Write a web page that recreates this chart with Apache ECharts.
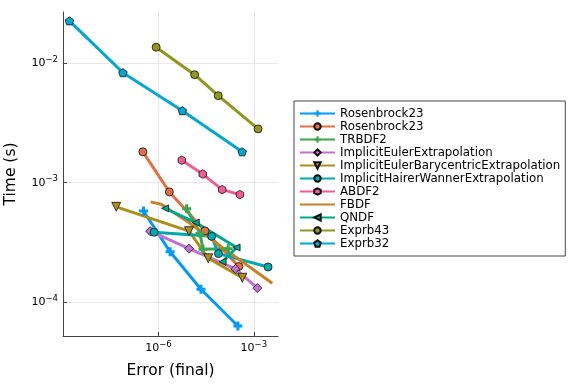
<!DOCTYPE html>
<html>
<head>
<meta charset="utf-8">
<script src="https://cdn.jsdelivr.net/npm/echarts@6/dist/echarts.min.js"></script>
<style>html,body{margin:0;padding:0;background:#fff}#c{width:576px;height:384px}</style>
</head>
<body>
<div id="c"></div>
<script>
// Series names (legend order)
const names = ["Rosenbrock23","Rosenbrock23","TRBDF2","ImplicitEulerExtrapolation","ImplicitEulerBarycentricExtrapolation","ImplicitHairerWannerExtrapolation","ABDF2","FBDF","QNDF","Exprb43","Exprb32"];
// Error (final) values, per series
const err_ros23a = [3.39e-7, 2.33e-6, 2.18e-5, 3.15e-4];
const err_ros23b = [3.24e-7, 2.21e-6, 2.91e-5, 3.39e-4];
const err_trbdf2 = [7.76e-6, 2.03e-5, 2.52e-5, 1.56e-4];
const err_iee    = [5.50e-7, 9.16e-6, 2.63e-4, 1.29e-3];
const err_iebe   = [4.72e-8, 9.16e-6, 3.69e-5, 4.35e-4];
const err_ihwe   = [7.33e-7, 4.72e-5, 7.71e-5, 2.81e-3];
const err_abdf2  = [5.42e-6, 2.47e-5, 1.01e-4, 3.64e-4];
const err_fbdf   = [5.69e-7, 1.22e-6, 9.87e-6, 9.93e-5, 3.80e-3];
const err_qndf   = [1.62e-6, 1.49e-5, 2.87e-4, 1.04e-4];
const err_exp43  = [8.47e-7, 1.38e-5, 7.60e-5, 1.36e-3];
const err_exp32  = [1.59e-9, 7.66e-8, 5.65e-6, 4.30e-4];
// Time (s) values, per series
const t_ros23a = [5.81e-4, 2.65e-4, 1.29e-4, 6.37e-5];
const t_ros23b = [1.81e-3, 8.38e-4, 3.96e-4, 2.00e-4];
const t_trbdf2 = [6.05e-4, 3.79e-4, 2.79e-4, 2.81e-4];
const t_iee    = [3.94e-4, 2.82e-4, 1.91e-4, 1.32e-4];
const t_iebe   = [6.29e-4, 3.94e-4, 2.34e-4, 1.61e-4];
const t_ihwe   = [3.86e-4, 3.57e-4, 2.56e-4, 1.98e-4];
const t_abdf2  = [1.54e-3, 1.18e-3, 8.75e-4, 7.95e-4];
const t_fbdf   = [6.92e-4, 6.60e-4, 4.58e-4, 2.90e-4, 1.45e-4];
const t_qndf   = [6.11e-4, 4.65e-4, 2.88e-4, 2.19e-4];
const t_exp43  = [1.35e-2, 7.96e-3, 5.32e-3, 2.81e-3];
const t_exp32  = [2.24e-2, 8.28e-3, 3.99e-3, 1.81e-3];
// Tick values
const xTicks = [1e-6, 1e-3];
const yTicks = [1e-4, 1e-3, 1e-2];

const errs = [err_ros23a, err_ros23b, err_trbdf2, err_iee, err_iebe, err_ihwe, err_abdf2, err_fbdf, err_qndf, err_exp43, err_exp32];
const times = [t_ros23a, t_ros23b, t_trbdf2, t_iee, t_iebe, t_ihwe, t_abdf2, t_fbdf, t_qndf, t_exp43, t_exp32];
const colors = ['#009AFA','#E36F47','#3EA44E','#C371D2','#AC8E18','#00A9AD','#ED5E93','#C68225','#00A98D','#8E971E','#00A9CD'];
const PLUS = 'path://M-1,-3H1V-1H3V1H1V3H-1V1H-3V-1H-1Z';
const HEX = 'path://M0,-1L0.866,-0.5L0.866,0.5L0,1L-0.866,0.5L-0.866,-0.5Z';
const PENT = 'path://M0,-1L0.951,-0.309L0.588,0.809L-0.588,0.809L-0.951,-0.309Z';
const symbols = [
  {s: PLUS, size: 9, rot: 0, border: 0, show: true},
  {s: 'circle', size: 8, rot: 0, border: 0.8, show: true},
  {s: PLUS, size: 9, rot: 0, border: 0, show: true},
  {s: 'diamond', size: 9, rot: 0, border: 0.8, show: true},
  {s: 'triangle', size: 9, rot: 180, border: 0.8, show: true},
  {s: 'circle', size: 8, rot: 0, border: 0.8, show: true},
  {s: HEX, size: 8.5, rot: 0, border: 0.8, show: true},
  {s: 'circle', size: 0, rot: 0, border: 0, show: false},
  {s: 'triangle', size: 7, rot: 90, border: 0.8, show: true},
  {s: 'circle', size: 8, rot: 0, border: 0.8, show: true},
  {s: PENT, size: 8.5, rot: 0, border: 0.8, show: true}
];

const series = names.map((n, i) => ({
  name: n + (i === 1 ? '\u200b' : ''),
  type: 'line',
  data: errs[i].map((e, k) => [e, times[i][k]]),
  symbol: symbols[i].s,
  symbolSize: symbols[i].size,
  symbolRotate: symbols[i].rot,
  symbolKeepAspect: true,
  showSymbol: symbols[i].show,
  lineStyle: {width: 3, color: colors[i]},
  itemStyle: {color: colors[i], borderColor: '#111', borderWidth: symbols[i].border},
  emphasis: {disabled: true},
  animation: false
}));

function fmtExp(v) {
  const e = Math.round(Math.log10(v));
  if (Math.abs(Math.log10(v) - e) > 1e-6) return '';
  return '{b|10}{s|\u2212' + Math.abs(e) + '}';
}
const rich = {
  b: {fontSize: 11, fontFamily: 'DejaVu Sans', color: '#000'},
  s: {fontSize: 8.5, fontFamily: 'DejaVu Sans', color: '#000', padding: [0, 0, 7, 0]}
};

const chart = echarts.init(document.getElementById('c'), null, {renderer: 'canvas'});
chart.setOption({
  backgroundColor: '#fff',
  animation: false,
  grid: {left: 63, top: 12, width: 215, height: 324.5, containLabel: false},
  xAxis: {
    type: 'log', logBase: 10,
    min: 1e-9, max: Math.pow(10, -2.24),
    interval: 3,
    name: 'Error (final)', nameLocation: 'middle', nameGap: 27,
    nameTextStyle: {fontSize: 15.5, fontFamily: 'DejaVu Sans', color: '#000'},
    axisLine: {show: true, lineStyle: {color: '#444', width: 1}},
    axisTick: {show: true, inside: true, length: 4, lineStyle: {color: '#444'}, customValues: xTicks},
    axisLabel: {formatter: fmtExp, rich: rich, margin: 4, customValues: xTicks},
    splitLine: {show: true, lineStyle: {color: '#e8e8e8', width: 1}}
  },
  yAxis: {
    type: 'log', logBase: 10,
    min: Math.pow(10, -4.279), max: Math.pow(10, -1.576),
    interval: 1,
    name: 'Time (s)', nameLocation: 'middle', nameGap: 44, nameRotate: 90,
    nameTextStyle: {fontSize: 15.5, fontFamily: 'DejaVu Sans', color: '#000'},
    axisLine: {show: true, lineStyle: {color: '#444', width: 1}},
    axisTick: {show: true, inside: true, length: 4, lineStyle: {color: '#444'}, customValues: yTicks},
    axisLabel: {formatter: fmtExp, rich: rich, margin: 5, customValues: yTicks},
    splitLine: {show: true, lineStyle: {color: '#e8e8e8', width: 1}}
  },
  legend: {
    orient: 'vertical', left: 294, top: 101,
    padding: [6, 5, 6, 5],
    itemWidth: 35, itemHeight: 8, itemGap: 0,
    backgroundColor: '#fff', borderColor: '#444', borderWidth: 1, borderRadius: 0,
    textStyle: {fontSize: 11.8, fontFamily: 'DejaVu Sans', color: '#000', lineHeight: 13},
    data: series.map((s, i) => i === 7 ? {name: s.name, itemStyle: {opacity: 0}} : s.name),
    selectedMode: false
  },
  series: series
});
</script>
</body>
</html>
